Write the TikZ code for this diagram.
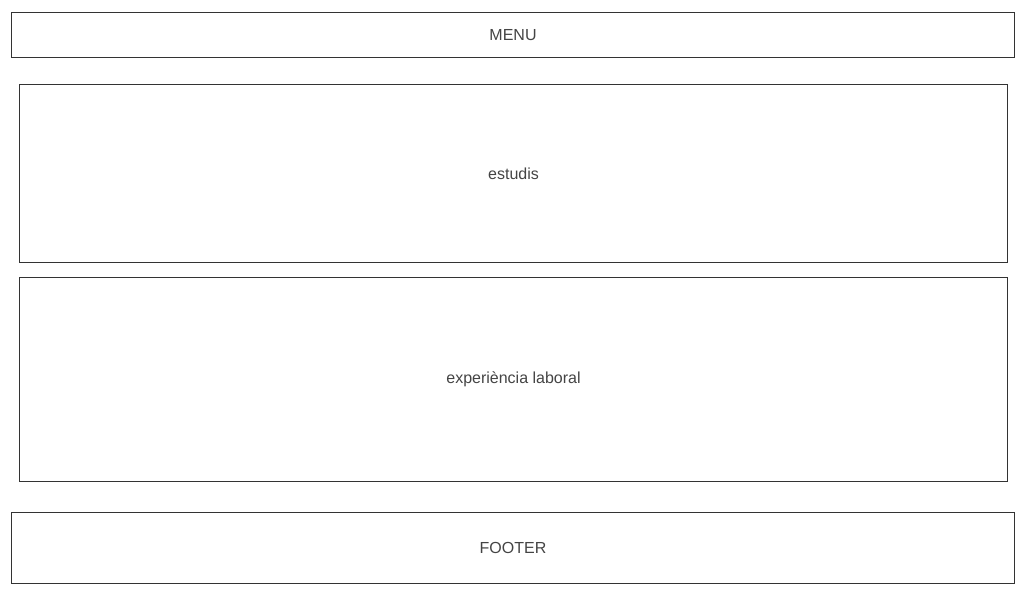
\documentclass[tikz,border=0pt]{standalone}
\usepackage{fontspec}
\setmainfont{Liberation Sans}
\usepackage{xcolor}
\usetikzlibrary{positioning}
\definecolor{boxline}{HTML}{333333}
\definecolor{boxtext}{HTML}{444444}
\tikzset{
	block/.style={draw=boxline,line width=1pt,text=boxtext,inner sep=0pt,font=\fontsize{16}{19}\selectfont},
}

\begin{document}
\begin{tikzpicture}[x=1pt,y=-1pt]
	\useasboundingbox (0,0) rectangle (1024,600);
	\node[block,minimum width=1003pt,minimum height=45pt] (menu) at (513,35) {MENU};
	\node[block,minimum width=988pt,minimum height=178pt] (estudis) at (513.5,173.5) {estudis};
	\node[block,minimum width=988pt,minimum height=204pt] (experiencia) at (513.5,379.5) {experiència laboral};
	\node[block,minimum width=1003pt,minimum height=71pt] (footer) at (513,548) {FOOTER};
\end{tikzpicture}
\end{document}
